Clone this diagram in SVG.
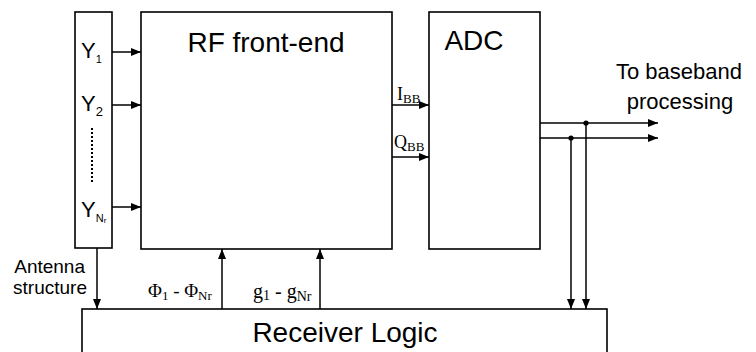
<svg xmlns="http://www.w3.org/2000/svg" width="756" height="352" viewBox="0 0 756 352">
<defs>
<marker id="ah" viewBox="0 0 10 8" refX="10" refY="4" markerWidth="10" markerHeight="8" markerUnits="userSpaceOnUse" orient="auto">
<path d="M0,0 L10,4 L0,8 Z" fill="#000"/>
</marker>
</defs>
<style>
.box{fill:#fff;stroke:#000;stroke-width:1.6}
.ln{fill:none;stroke:#000;stroke-width:1.5}
.big{font-family:"Liberation Sans",Arial,sans-serif;font-size:28px;fill:#000}
.sans{font-family:"Liberation Sans",Arial,sans-serif;fill:#000}
.ser{font-family:"Liberation Serif","Times New Roman",serif;fill:#000}
</style>
<rect width="756" height="352" fill="#fff"/>
<g id="antenna">
<rect class="box" x="75" y="12" width="37" height="236"/>
<text class="sans" x="81" y="58" font-size="22">Y<tspan font-size="11" dy="5">1</tspan></text>
<text class="sans" x="81" y="111" font-size="22">Y<tspan font-size="13" dy="5">2</tspan></text>
<line x1="92" y1="128" x2="92" y2="182" stroke="#000" stroke-width="2" stroke-dasharray="2,2"/>
<text class="sans" x="81" y="217" font-size="22">Y<tspan font-size="11" dy="5">N</tspan><tspan font-size="8" dy="1">r</tspan></text>
</g>
<g id="rf">
<rect class="box" x="141" y="12" width="251" height="237"/>
<text class="big" x="266" y="52" text-anchor="middle" font-size="29">RF front-end</text>
</g>
<g id="adc">
<rect class="box" x="429" y="12" width="111" height="237"/>
<text class="big" x="474" y="50" text-anchor="middle" font-size="27">ADC</text>
</g>
<g id="receiver">
<rect class="box" x="82" y="309" width="525" height="60"/>
<text class="big" x="345" y="342" text-anchor="middle" font-size="29.5">Receiver Logic</text>
</g>
<g id="labels">
<text class="sans" x="85" y="273" font-size="19" text-anchor="end">Antenna</text>
<text class="sans" x="87" y="294" font-size="19" text-anchor="end">structure</text>
<text class="ser" x="148" y="297" font-size="19">Φ<tspan font-size="13" dy="3">1</tspan><tspan dy="-3"> - Φ</tspan><tspan font-size="13" dy="3">Nr</tspan></text>
<text class="ser" x="253" y="298" font-size="20">g<tspan font-size="14" dy="2">1</tspan><tspan dy="-2"> - g</tspan><tspan font-size="14" dy="3">Nr</tspan></text>
<text class="ser" x="397" y="100" font-size="18">I<tspan font-size="13" dy="3">BB</tspan></text>
<text class="ser" x="394" y="148" font-size="18">Q<tspan font-size="13" dy="3">BB</tspan></text>
<text class="sans" x="679" y="79" font-size="22" text-anchor="middle">To baseband</text>
<text class="sans" x="680" y="109" font-size="22" text-anchor="middle">processing</text>
</g>
<g id="connectors">
<line class="ln" x1="112" y1="52" x2="141" y2="52" marker-end="url(#ah)"/>
<line class="ln" x1="112" y1="105" x2="141" y2="105" marker-end="url(#ah)"/>
<line class="ln" x1="112" y1="207" x2="141" y2="207" marker-end="url(#ah)"/>
<line class="ln" x1="392" y1="105" x2="429" y2="105" marker-end="url(#ah)"/>
<line class="ln" x1="392" y1="157" x2="429" y2="157" marker-end="url(#ah)"/>
<line class="ln" x1="97" y1="248" x2="97" y2="309" marker-end="url(#ah)"/>
<line class="ln" x1="222" y1="309" x2="222" y2="249" marker-end="url(#ah)"/>
<line class="ln" x1="320" y1="309" x2="320" y2="249" marker-end="url(#ah)"/>
<line class="ln" x1="540" y1="123" x2="658" y2="123" marker-end="url(#ah)"/>
<line class="ln" x1="540" y1="138" x2="658" y2="138" marker-end="url(#ah)"/>
<line class="ln" x1="586" y1="123" x2="586" y2="309" marker-end="url(#ah)"/>
<line class="ln" x1="571" y1="138" x2="571" y2="309" marker-end="url(#ah)"/>
<circle cx="586" cy="123" r="2.6" fill="#000"/>
<circle cx="571" cy="138" r="2.6" fill="#000"/>
</g>
</svg>
